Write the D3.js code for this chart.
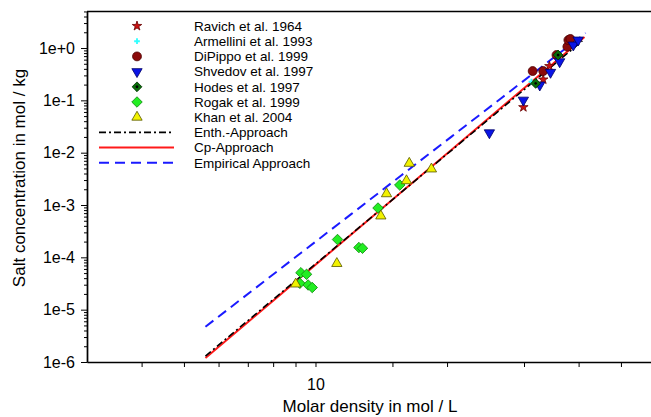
<!DOCTYPE html>
<html>
<head>
<meta charset="utf-8">
<script src="https://cdn.jsdelivr.net/npm/d3@7"></script>
<style>
  html, body { margin: 0; padding: 0; background: #fff; }
  svg { display: block; font-family: "Liberation Sans", Arial, sans-serif; }
</style>
</head>
<body>
<svg id="chart" width="651" height="417"></svg>
<script>
// Axis ticks
const xTickValues = [4, 5, 6, 7, 8, 9, 10, 15, 20, 30, 40, 50];
const xTickLabels = {10: "10"};
const yMajorTicks = [1e-6, 1e-5, 1e-4, 1e-3, 1e-2, 1e-1, 1];
const yTickLabels = ["1e-6", "1e-5", "1e-4", "1e-3", "1e-2", "1e-1", "1e+0"];

// Measured data: molar density (mol/L) and salt concentration (mol/kg)
const ravichX = [29.9, 33.2, 34.3];
const ravichY = [0.074, 0.25, 0.45];
const armelliniX = [31.2, 38.1];
const armelliniY = [0.227, 1.25];
const dipippoX = [31.4, 33.2, 35.6, 37.7, 37.9, 38.3];
const dipippoY = [0.363, 0.363, 0.735, 1.06, 1.42, 1.49];
const shvedovX = [25.0, 29.9, 32.6, 34.5, 36.2, 38.9, 39.9];
const shvedovY = [0.024, 0.101, 0.196, 0.343, 0.547, 1.14, 1.42];
const hodesX = [31.9, 35.9];
const hodesY = [0.211, 0.735];
const rogakX = [9.21, 9.26, 9.54, 9.62, 9.83, 11.23, 12.57, 12.81, 13.9, 15.59];
const rogakY = [3.19e-5, 5.08e-5, 4.74e-5, 2.96e-5, 2.65e-5, 2.19e-4, 1.54e-4, 1.49e-4, 8.76e-4, 2.41e-3];
const khanX = [9.01, 11.19, 14.11, 14.54, 16.15, 16.39, 18.42];
const khanY = [3.09e-5, 7.62e-5, 6.17e-4, 1.64e-3, 2.91e-3, 6.26e-3, 4.88e-3];

// Model curves
const enthX = [5.6, 7.14, 9.29, 12.09, 15.73, 20.48, 26.65, 34.67, 40.8];
const enthY = [1.30e-6, 7.08e-6, 4.45e-5, 2.81e-4, 1.76e-3, 1.11e-2, 6.98e-2, 0.44, 1.37];
const cpX = [5.6, 7.14, 9.29, 12.09, 15.73, 20.48, 26.65, 34.67, 41.27];
const cpY = [1.19e-6, 6.63e-6, 4.28e-5, 2.77e-4, 1.78e-3, 1.14e-2, 7.39e-2, 0.475, 1.62];
const empX = [5.6, 7.14, 9.29, 12.09, 15.73, 20.48, 26.65, 34.67, 41.5];
const empY = [4.72e-6, 2.26e-5, 1.24e-4, 6.76e-4, 3.71e-3, 2.03e-2, 0.111, 0.608, 1.93];

const zip = (xs, ys) => xs.map((v, i) => [v, ys[i]]);

const svg = d3.select("#chart");
const left = 87, bottom = 362;

const x = d3.scaleLog().domain([3, 60]).range([left, left + 437 * Math.log10(20)]);
const y = d3.scaleLog().domain([1e-6, 5]).range([bottom, bottom - 52.33 * Math.log10(5e6)]);

// Plot frame: top border
svg.append("line")
  .attr("x1", left).attr("x2", 651)
  .attr("y1", y(5)).attr("y2", y(5))
  .attr("stroke", "#000").attr("stroke-width", 1.6);

// Y axis (major + minor ticks)
const yMinor = [];
for (let e = -6; e <= 0; e++) {
  for (let m = 2; m <= 9; m++) {
    const v = m * Math.pow(10, e);
    if (v <= 5) yMinor.push(v);
  }
}
const yAxisMinor = svg.append("g").attr("transform", `translate(${left},0)`)
  .call(d3.axisLeft(y).tickValues(yMinor).tickSize(3).tickFormat("").tickSizeOuter(0));
const yAxis = svg.append("g").attr("transform", `translate(${left},0)`)
  .call(d3.axisLeft(y).tickValues(yMajorTicks).tickSize(6).tickSizeOuter(0).tickPadding(6)
    .tickFormat((d, i) => yTickLabels[i]));
[yAxis, yAxisMinor].forEach(g => {
  g.select(".domain").attr("stroke", "#000").attr("stroke-width", 1.4);
  g.selectAll(".tick line").attr("stroke", "#000").attr("stroke-width", 1);
});
yAxis.selectAll(".tick text")
  .attr("font-size", 16).attr("fill", "#000")
  .attr("font-family", "Liberation Sans, Arial, sans-serif");

// X axis
const xAxis = svg.append("g").attr("transform", `translate(0,${bottom})`)
  .call(d3.axisBottom(x).tickValues(xTickValues).tickSize(5).tickSizeOuter(0).tickPadding(12)
    .tickFormat(d => xTickLabels[d] || ""));
xAxis.select(".domain").attr("stroke", "#000").attr("stroke-width", 1.4);
xAxis.selectAll(".tick line").attr("stroke", "#000").attr("stroke-width", 1);
xAxis.selectAll(".tick text")
  .attr("font-size", 16).attr("fill", "#000")
  .attr("font-family", "Liberation Sans, Arial, sans-serif");

// Axis titles
svg.append("text")
  .attr("transform", `translate(25,178) rotate(-90)`)
  .attr("text-anchor", "middle")
  .attr("font-size", 17).attr("fill", "#000")
  .text("Salt concentration in mol / kg");
svg.append("text")
  .attr("x", 370).attr("y", 412)
  .attr("text-anchor", "middle")
  .attr("font-size", 17).attr("fill", "#000")
  .text("Molar density in mol / L");

// Model curves
const line = d3.line().x(d => x(d[0])).y(d => y(d[1]));
const curves = [
  {name: "Cp-Approach", data: zip(cpX, cpY), color: "#ff1a1a", dash: null, width: 2},
  {name: "Enth.-Approach", data: zip(enthX, enthY), color: "#000", dash: "7,3,2,3", width: 1.6},
  {name: "Empirical Approach", data: zip(empX, empY), color: "#1a1aff", dash: "10,6", width: 2}
];
curves.forEach(c => {
  svg.append("path")
    .attr("d", line(c.data))
    .attr("fill", "none")
    .attr("stroke", c.color)
    .attr("stroke-width", c.width)
    .attr("stroke-dasharray", c.dash);
});

// Marker definitions
const series = [
  {name: "Ravich et al. 1964", data: zip(ravichX, ravichY), type: d3.symbolStar, size: 28, fill: "#cc1111", stroke: "#660000", rot: 0},
  {name: "Armellini et al. 1993", data: zip(armelliniX, armelliniY), type: d3.symbolCross, size: 18, fill: "#33ffff", stroke: "#33ffff", rot: 0},
  {name: "DiPippo et al. 1999", data: zip(dipippoX, dipippoY), type: d3.symbolCircle, size: 62, fill: "#8b0a0a", stroke: "#4a0000", rot: 0},
  {name: "Shvedov et al. 1997", data: zip(shvedovX, shvedovY), type: d3.symbolTriangle, size: 46, fill: "#0a14e6", stroke: "#000066", rot: 180},
  {name: "Hodes et al. 1997", data: zip(hodesX, hodesY), type: d3.symbolSquare, size: 48, fill: "#0a6e0a", stroke: "#003300", rot: 45, dot: true},
  {name: "Rogak et al. 1999", data: zip(rogakX, rogakY), type: d3.symbolSquare, size: 55, fill: "#22ee22", stroke: "#128a12", rot: 45},
  {name: "Khan et al. 2004", data: zip(khanX, khanY), type: d3.symbolTriangle, size: 46, fill: "#f2f200", stroke: "#555500", rot: 0}
];

function drawMarker(g, s, cx, cy) {
  const m = g.append("g").attr("transform", `translate(${cx},${cy}) rotate(${s.rot})`);
  m.append("path")
    .attr("d", d3.symbol().type(s.type).size(s.size)())
    .attr("fill", s.fill)
    .attr("stroke", s.stroke)
    .attr("stroke-width", s.type === d3.symbolCross ? 0 : 0.8);
  if (s.dot) m.append("circle").attr("r", 1.4).attr("fill", "#000");
}

const pts = svg.append("g");
series.forEach(s => {
  s.data.forEach(d => drawMarker(pts, s, x(d[0]), y(d[1])));
});

// Legend
const legX = 137, legTextX = 194, legY0 = 26, legDy = 15.2;
const legend = svg.append("g");
series.forEach((s, i) => {
  const ly = legY0 + i * legDy;
  drawMarker(legend, s, legX, ly);
  legend.append("text").attr("x", legTextX).attr("y", ly).attr("dy", "0.35em")
    .attr("font-size", 13.5).attr("fill", "#000").text(s.name);
});
const legCurves = [curves[1], curves[0], curves[2]];
legCurves.forEach((c, j) => {
  const ly = legY0 + (series.length + j) * legDy;
  legend.append("line")
    .attr("x1", 99).attr("x2", 174).attr("y1", ly).attr("y2", ly)
    .attr("stroke", c.color).attr("stroke-width", c.width)
    .attr("stroke-dasharray", c.dash);
  legend.append("text").attr("x", legTextX).attr("y", ly).attr("dy", "0.35em")
    .attr("font-size", 13.5).attr("fill", "#000").text(c.name);
});
</script>
</body>
</html>
